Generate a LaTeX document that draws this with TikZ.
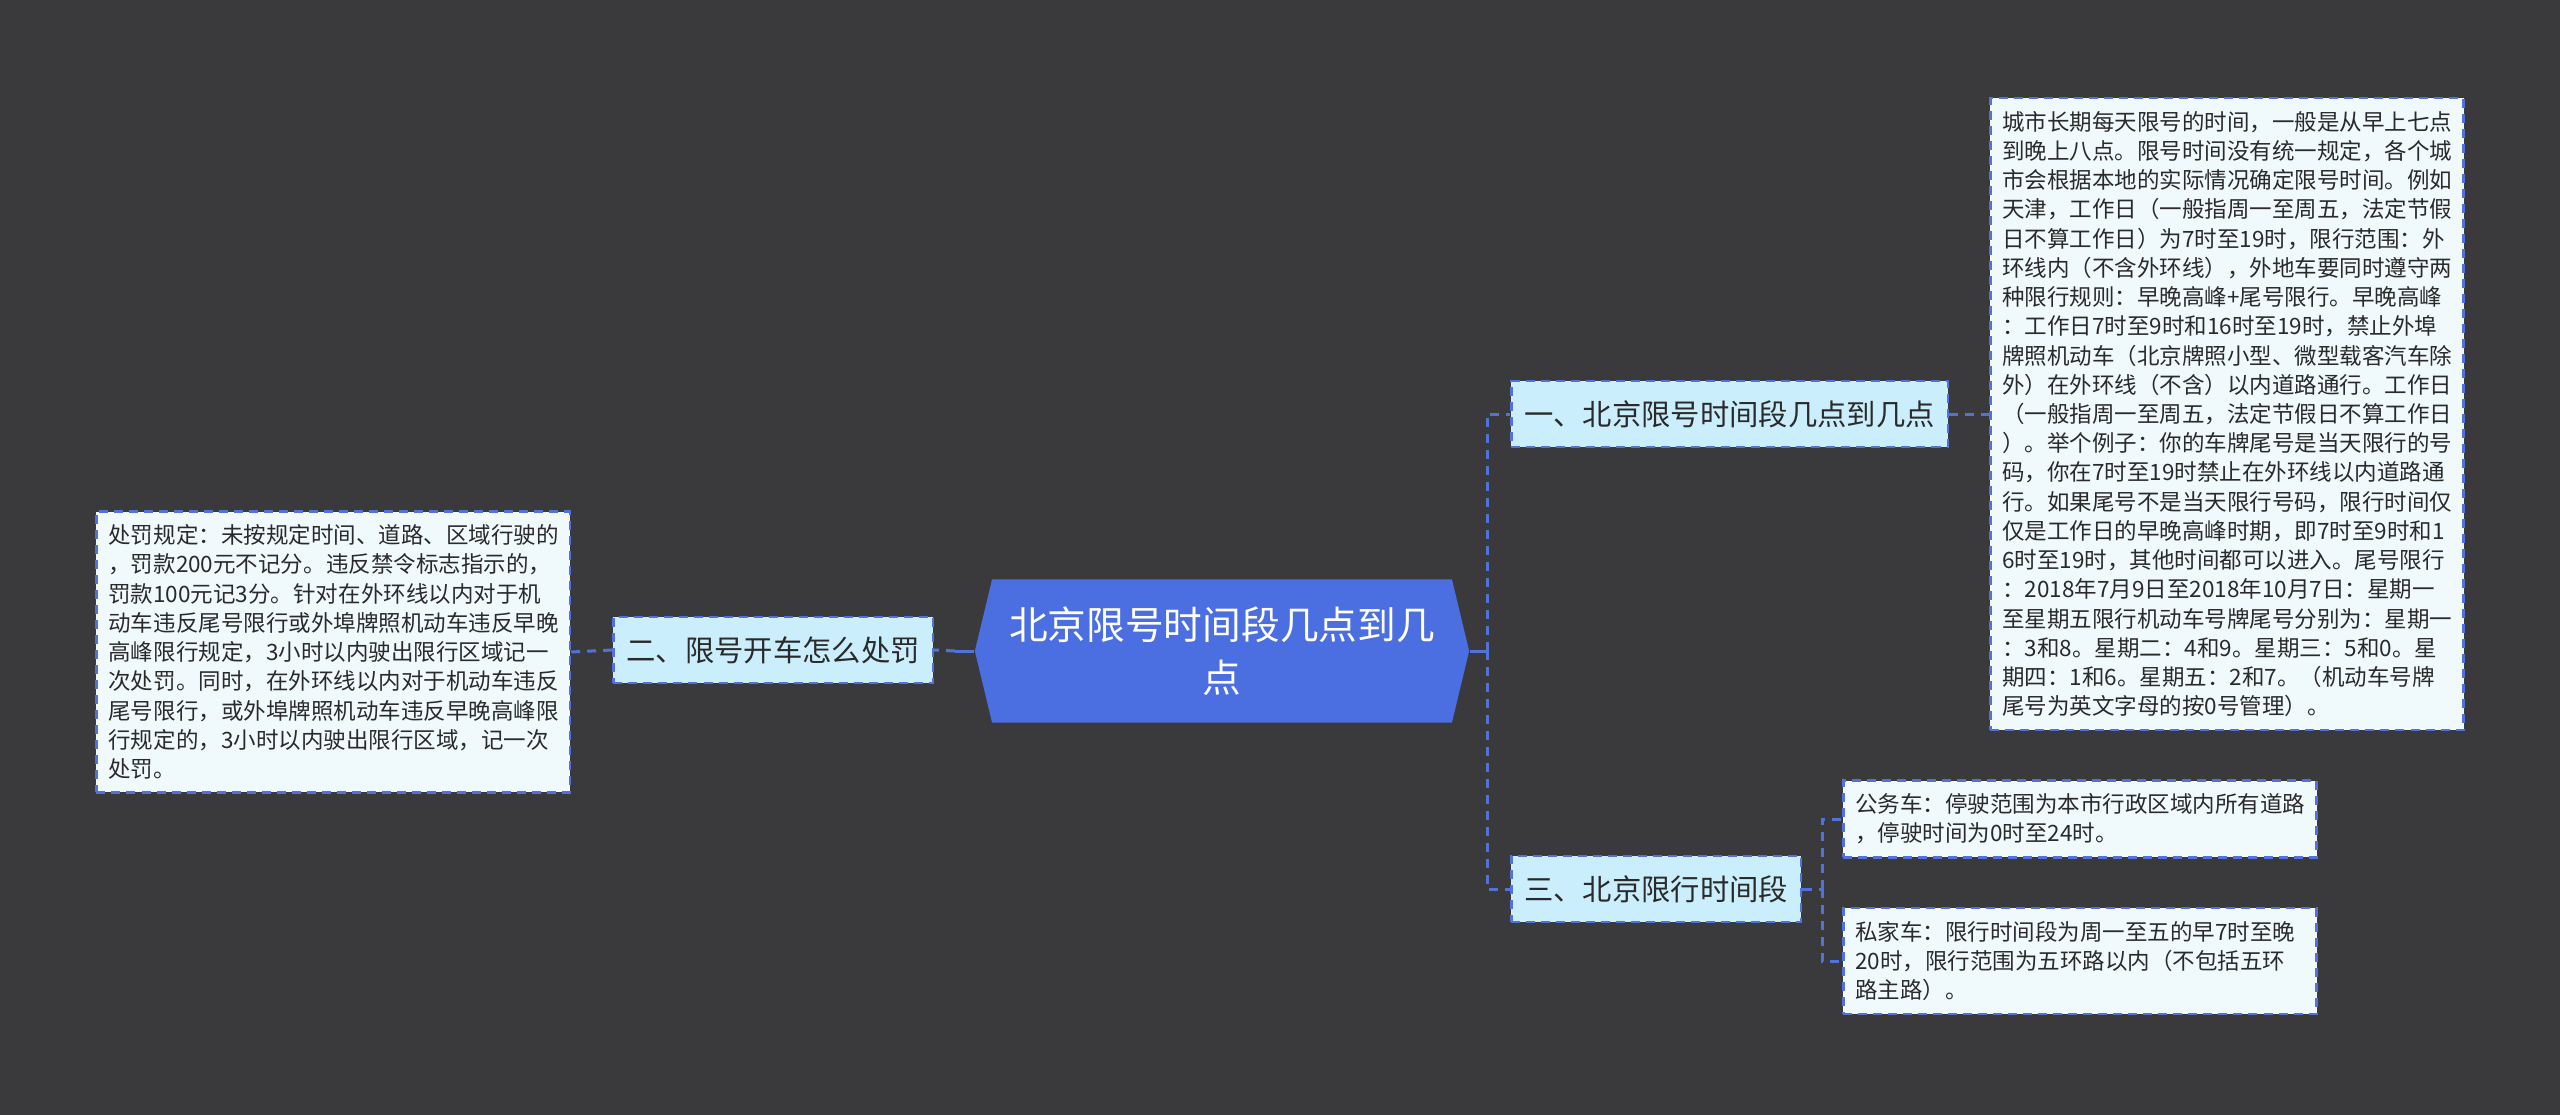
\documentclass[tikz,border=0pt]{standalone}
\usepackage{fontspec}
\setmainfont{Noto Sans CJK SC}
\usetikzlibrary{shapes.symbols}
\definecolor{bgc}{HTML}{3A393C}
\definecolor{rootc}{HTML}{4B6EE1}
\definecolor{linec}{HTML}{5272DA}
\definecolor{subc}{HTML}{CBEEFC}
\definecolor{leafc}{HTML}{F0FAFD}
\definecolor{txtc}{HTML}{2A2A2A}

\begin{document}
\begin{tikzpicture}[x=0.01cm, y=-0.01cm,
	lnk/.style={draw=linec, line width=0.03cm, dash pattern=on 0.09cm off 0.07cm},
	rootlnk/.style={draw=linec, line width=0.03cm},
	boxline/.style={draw=linec, line width=0.025cm, dash pattern=on 0.09cm off 0.06cm},
	rootbox/.style={signal, signal to=east and west, signal pointer angle=153,
		fill=rootc, text=white, minimum width=4.94cm, minimum height=1.43cm,
		inner sep=0pt, align=center, font=\fontsize{11pt}{15.2pt}\selectfont},
	subbox/.style={boxline, fill=subc, text=txtc, inner xsep=0.13cm,
		minimum height=0.66cm, font=\fontsize{8.34pt}{10pt}\selectfont},
	leaf/.style={boxline, fill=leafc, text=txtc, inner xsep=0.12cm, inner ysep=0.13cm,
		text width=4.49cm, align=left, font=\fontsize{6.4pt}{8.31pt}\selectfont}]
	\fill[bgc] (0,0) rectangle (2560,1115);
	\node[rootbox] (root) at (1222, 651) {北京限号时间段几点到几\\点};
	\node[subbox, anchor=west] (s1) at (1510, 414) {一、北京限号时间段几点到几点};
	\node[subbox, anchor=east] (s2) at (934, 650) {二、限号开车怎么处罚};
	\node[subbox, anchor=west] (s3) at (1510, 889) {三、北京限行时间段};
	\node[leaf, anchor=west] (l1) at (1989, 414) {城市长期每天限号的时间，一般是从早上七点\\到晚上八点。限号时间没有统一规定，各个城\\市会根据本地的实际情况确定限号时间。例如\\天津，工作日（一般指周一至周五，法定节假\\日不算工作日）为7时至19时，限行范围：外\\环线内（不含外环线），外地车要同时遵守两\\种限行规则：早晚高峰+尾号限行。早晚高峰\\：工作日7时至9时和16时至19时，禁止外埠\\牌照机动车（北京牌照小型、微型载客汽车除\\外）在外环线（不含）以内道路通行。工作日\\（一般指周一至周五，法定节假日不算工作日\\）。举个例子：你的车牌尾号是当天限行的号\\码，你在7时至19时禁止在外环线以内道路通\\行。如果尾号不是当天限行号码，限行时间仅\\仅是工作日的早晚高峰时期，即7时至9时和1\\6时至19时，其他时间都可以进入。尾号限行\\：2018年7月9日至2018年10月7日：星期一\\至星期五限行机动车号牌尾号分别为：星期一\\：3和8。星期二：4和9。星期三：5和0。星\\期四：1和6。星期五：2和7。（机动车号牌\\尾号为英文字母的按0号管理）。};
	\node[leaf, anchor=east] (l2) at (571, 652) {处罚规定：未按规定时间、道路、区域行驶的\\，罚款200元不记分。违反禁令标志指示的，\\罚款100元记3分。针对在外环线以内对于机\\动车违反尾号限行或外埠牌照机动车违反早晚\\高峰限行规定，3小时以内驶出限行区域记一\\次处罚。同时，在外环线以内对于机动车违反\\尾号限行，或外埠牌照机动车违反早晚高峰限\\行规定的，3小时以内驶出限行区域，记一次\\处罚。};
	\node[leaf, anchor=west] (l3a) at (1842, 819) {公务车：停驶范围为本市行政区域内所有道路\\，停驶时间为0时至24时。};
	\node[leaf, anchor=west] (l3b) at (1842, 961) {私家车：限行时间段为周一至五的早7时至晚\\20时，限行范围为五环路以内（不包括五环\\路主路）。};
	\coordinate (rs) at (1487, 651);
	\coordinate (ls) at (955, 651);
	\coordinate (ts) at (1822, 889);
	\draw[rootlnk] (root.east) -- (rs);
	\draw[lnk] (rs) |- (s1.west);
	\draw[lnk] (rs) |- (s3.west);
	\draw[lnk] (s1.east) -- (l1.west);
	\draw[rootlnk] (root.west) -- (ls);
	\draw[lnk] (ls) -- (s2.east);
	\draw[lnk] (s2.west) -- (l2.east);
	\draw[lnk] (s3.east) -- (ts);
	\draw[lnk] (ts) |- (l3a.west);
	\draw[lnk] (ts) |- (l3b.west);
\end{tikzpicture}
\end{document}
